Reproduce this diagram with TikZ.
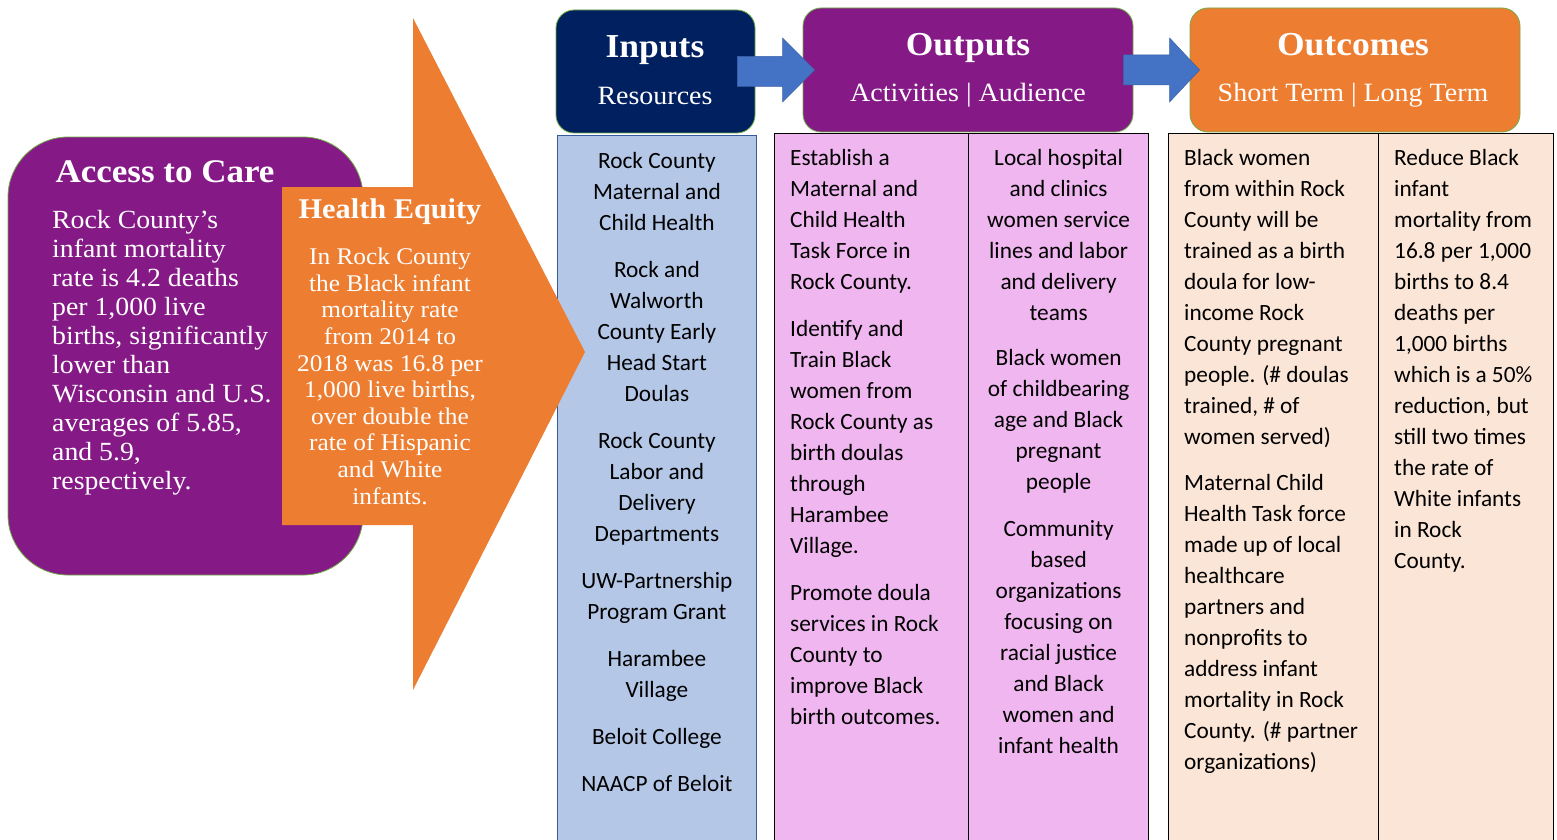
\documentclass[tikz,border=0pt]{standalone}
\usepackage{fontspec}
\setmainfont[FakeStretch = 1.06]{Liberation Serif}
\newfontfamily\calfont{Carlito}
\usetikzlibrary{calc}

\definecolor{boxpurple}{RGB}{133,26,135}
\definecolor{boxnavy}{RGB}{0,32,96}
\definecolor{boxorange}{RGB}{237,125,49}
\definecolor{arrowblue}{RGB}{68,114,196}
\definecolor{inblue}{RGB}{180,199,231}
\definecolor{outpink}{RGB}{240,182,240}
\definecolor{outcpeach}{RGB}{251,229,214}
\definecolor{rimgreen}{RGB}{112,173,71}

\begin{document}
\begin{tikzpicture}[x = 1pt, y = -1pt,
                        header/.style = {draw = rimgreen, line width = 0.8pt, rounded corners = 18pt, inner sep = 0pt},
                        hdtitle/.style = {anchor = base, text = white, font = \fontsize{33.5}{36}\selectfont\bfseries},
                        hdsub/.style = {anchor = base, text = white, font = \fontsize{26.4}{30}\selectfont},
                        column/.style = {draw = black, line width = 1.2pt, anchor = north west, inner sep = 0pt, minimum height = 720pt},
                        coltext/.style = {inner sep = 0pt, text = black, font = \calfont\fontsize{23.3}{31}\selectfont},
                        blockarrow/.style = {fill = arrowblue, draw = arrowblue!85!black, line width = 0.5pt}]
      \clip (0, 0) rectangle (1557, 840);
      \fill[white] (0, 0) rectangle (1557, 840);

      % headers
      \node [header, fill = boxnavy, minimum width = 199pt, minimum height = 123pt] (inhd) at (655.5, 71.5){};
      \node [header, fill = boxpurple, minimum width = 330pt, minimum height = 124pt] (outhd) at (968, 70){};
      \node [header, fill = boxorange, minimum width = 330pt, minimum height = 124pt] (outchd) at (1355, 70){};
      \node [hdtitle] (intit) at (655, 58){Inputs};
      \node [hdsub] (insub) at (655, 105){Resources};
      \node [hdtitle] (outtit) at (968, 56){Outputs};
      \node [hdsub] (outsub) at (968, 102){Activities | Audience};
      \node [hdtitle] (outctit) at (1353, 56){Outcomes};
      \node [hdsub] (outcsub) at (1353, 102){Short Term | Long Term};

      % columns
      \node [column, draw = arrowblue!80!black, line width = 0.8pt, fill = inblue, minimum width = 199pt] (incol) at (557, 135){};
      \node [column, fill = outpink, minimum width = 194pt] (actcol) at (774, 133){};
      \node [column, fill = outpink, minimum width = 180pt] (audcol) at (968, 133){};
      \node [column, fill = outcpeach, minimum width = 210pt] (shortcol) at (1168, 133){};
      \node [column, fill = outcpeach, minimum width = 175pt] (longcol) at (1378, 133){};

      \node [coltext, anchor = north, align = center] (intext) at ([yshift = -17pt]incol.north)
            {Rock County\\ Maternal and\\ Child Health\\[16pt]
             Rock and\\ Walworth\\ County Early\\ Head Start\\ Doulas\\[16pt]
             Rock County\\ Labor and\\ Delivery\\ Departments\\[16pt]
             UW-Partnership\\ Program Grant\\[16pt]
             Harambee\\ Village\\[16pt]
             Beloit College\\[16pt]
             NAACP of Beloit};
      \node [coltext, anchor = north west, align = left] (acttext) at ([xshift = 16pt, yshift = -16pt]actcol.north west)
            {Establish a\\ Maternal and\\ Child Health\\ Task Force in\\ Rock County.\\[16pt]
             Identify and\\ Train Black\\ women from\\ Rock County as\\ birth doulas\\ through\\ Harambee\\ Village.\\[16pt]
             Promote doula\\ services in Rock\\ County to\\ improve Black\\ birth outcomes.};
      \node [coltext, anchor = north, align = center] (audtext) at ([yshift = -16pt]audcol.north)
            {Local hospital\\ and clinics\\ women service\\ lines and labor\\ and delivery\\ teams\\[14pt]
             Black women\\ of childbearing\\ age and Black\\ pregnant\\ people\\[16pt]
             Community\\ based\\ organizations\\ focusing on\\ racial justice\\ and Black\\ women and\\ infant health};
      \node [coltext, anchor = north west, align = left] (shorttext) at ([xshift = 16pt, yshift = -16pt]shortcol.north west)
            {Black women\\ from within Rock\\ County will be\\ trained as a birth\\ doula for low-\\ income Rock\\
             County pregnant\\ people. (\# doulas\\ trained, \# of\\ women served)\\[15pt]
             Maternal Child\\ Health Task force\\ made up of local\\ healthcare\\ partners and\\ nonprofits to\\
             address infant\\ mortality in Rock\\ County. (\# partner\\ organizations)};
      \node [coltext, anchor = north west, align = left] (longtext) at ([xshift = 16pt, yshift = -16pt]longcol.north west)
            {Reduce Black\\ infant\\ mortality from\\ 16.8 per 1,000\\ births to 8.4\\ deaths per\\ 1,000 births\\
             which is a 50\%\\ reduction, but\\ still two times\\ the rate of\\ White infants\\ in Rock\\ County.};

      % left side
      \node [draw = rimgreen, line width = 0.8pt, fill = boxpurple, rounded corners = 60pt,
             minimum width = 355pt, minimum height = 438pt, inner sep = 0pt] (access) at (185.5, 356){};
      \node [anchor = base, text = white, font = \fontsize{33}{36}\selectfont\bfseries] (accesstit) at (165, 182){Access to Care};
      \node [anchor = north west, inner sep = 0pt, align = left, text = white, font = \fontsize{26.2}{29}\selectfont] (accessbody) at (52, 210)
            {Rock County’s\\ infant mortality\\ rate is 4.2 deaths\\ per 1,000 live\\ births, significantly\\ lower than\\
             Wisconsin and U.S.\\ averages of 5.85,\\ and 5.9,\\ respectively.};

      \fill [boxorange] (282, 187) -- (413, 187) -- (413, 18) -- (585, 352) -- (413, 690) -- (413, 525) -- (282, 525) -- cycle;
      \node [anchor = base, text = white, font = \fontsize{28.6}{32}\selectfont\bfseries] (equitytit) at (390, 218){Health Equity};
      \node [anchor = north, inner sep = 0pt, align = center, text = white, font = \fontsize{23.9}{26.6}\selectfont] (equitybody) at (390, 248)
            {In Rock County\\ the Black infant\\ mortality rate\\ from 2014 to\\ 2018 was 16.8 per\\ 1,000 live births,\\
             over double the\\ rate of Hispanic\\ and White\\ infants.};

      % block arrows between headers
      \coordinate (a1) at ([xshift = -18pt]inhd.east);
      \coordinate (a1tip) at ([xshift = 12pt]outhd.west);
      \coordinate (a2) at ([xshift = -10pt]outhd.east);
      \coordinate (a2tip) at ([xshift = 10pt]outchd.west);
      \draw [blockarrow] ([yshift = 15pt]a1) -- ([xshift = -32pt, yshift = 15pt]a1tip |- a1) -- ([xshift = -32pt, yshift = 32pt]a1tip)
            -- (a1tip) -- ([xshift = -32pt, yshift = -32pt]a1tip) -- ([xshift = -32pt, yshift = -15pt]a1tip |- a1) -- ([yshift = -15pt]a1) -- cycle;
      \draw [blockarrow] ([yshift = 15pt]a2) -- ([xshift = -30pt, yshift = 15pt]a2tip |- a2) -- ([xshift = -30pt, yshift = 32pt]a2tip)
            -- (a2tip) -- ([xshift = -30pt, yshift = -32pt]a2tip) -- ([xshift = -30pt, yshift = -15pt]a2tip |- a2) -- ([yshift = -15pt]a2) -- cycle;
    \end{tikzpicture}
\end{document}
